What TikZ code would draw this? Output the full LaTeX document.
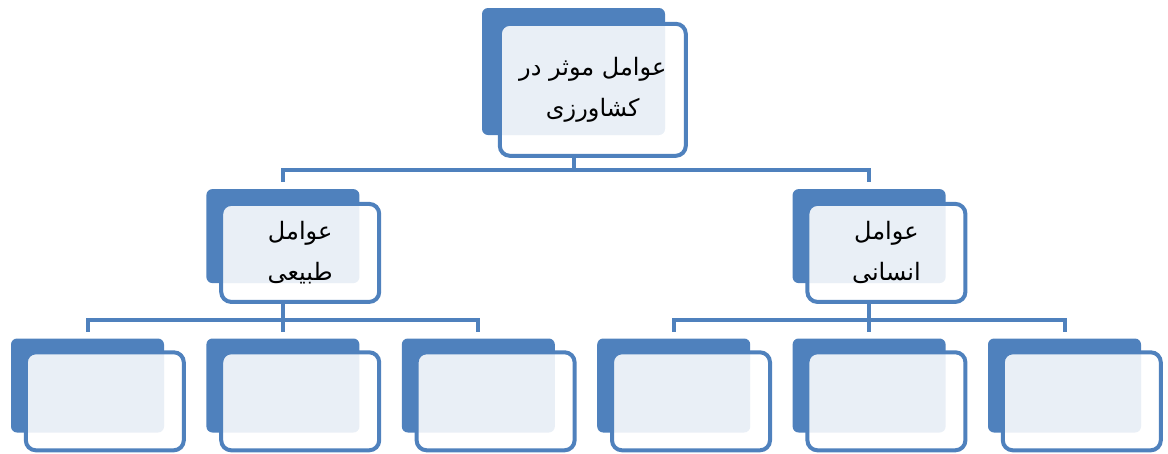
\documentclass[tikz,border=0pt]{standalone}
\usepackage{fontspec}
\newfontfamily\arabicfont[Script=Arabic]{DejaVu Sans}
\TeXXeTstate=1
\usetikzlibrary{positioning}
\definecolor{smblue}{RGB}{79,129,189}
\tikzstyle{bbox}=[rectangle, rounded corners=6pt, fill=smblue, minimum width=153pt, minimum height=94pt, inner sep=0pt]
\tikzstyle{fbox}=[rectangle, rounded corners=10pt, draw=smblue, line width=4pt, fill=white, fill opacity=0.88, text opacity=1, minimum width=158pt, minimum height=98pt, inner sep=2pt, align=center, font=\arabicfont\fontsize{24}{41}\selectfont]
\tikzstyle{pline}=[-, line width=4pt, draw=smblue]

\begin{document}
\begin{tikzpicture}[node distance=0mm]
\useasboundingbox (0,0) rectangle (1168pt,-453pt);
\node (TOPb) [bbox, minimum width=183pt, minimum height=127pt] at (573.5pt,-71.5pt) {};
\node (TOP) [fbox, minimum width=186pt, minimum height=132pt, below right=14pt and 16pt of TOPb.north west] {\beginR عوامل موثر در\endR\\\beginR کشاورزی\endR};
\node (B1b) [bbox] at (87.5pt,-385.5pt) {};
\node (B1) [fbox, below right=12pt and 13pt of B1b.north west] {};
\node (B2b) [bbox, right=42pt of B1b] {};
\node (B2) [fbox, below right=12pt and 13pt of B2b.north west] {};
\node (B3b) [bbox, right=42pt of B2b] {};
\node (B3) [fbox, below right=12pt and 13pt of B3b.north west] {};
\node (B4b) [bbox, right=42pt of B3b] {};
\node (B4) [fbox, below right=12pt and 13pt of B4b.north west] {};
\node (B5b) [bbox, right=42pt of B4b] {};
\node (B5) [fbox, below right=12pt and 13pt of B5b.north west] {};
\node (B6b) [bbox, right=42pt of B5b] {};
\node (B6) [fbox, below right=12pt and 13pt of B6b.north west] {};
\node (NATb) [bbox, above=55pt of B2b] {};
\node (NAT) [fbox, below right=13pt and 13pt of NATb.north west] {\beginR عوامل\endR\\\beginR طبیعی\endR};
\node (HUMb) [bbox, above=55pt of B5b] {};
\node (HUM) [fbox, below right=13pt and 13pt of HUMb.north west] {\beginR عوامل\endR\\\beginR انسانی\endR};
 \draw[pline] (TOPb |- TOP.south) -- ++(0,-12pt) -| ([yshift=7pt]NATb.north);
 \draw[pline] (TOPb |- TOP.south) -- ++(0,-12pt) -| ([yshift=7pt]HUMb.north);
 \draw[pline] (NATb |- NAT.south) -- ++(0,-16pt) -| ([yshift=6pt]B1b.north);
 \draw[pline] (NATb |- NAT.south) -- ++(0,-16pt) -| ([yshift=6pt]B2b.north);
 \draw[pline] (NATb |- NAT.south) -- ++(0,-16pt) -| ([yshift=6pt]B3b.north);
 \draw[pline] (HUMb |- HUM.south) -- ++(0,-16pt) -| ([yshift=6pt]B4b.north);
 \draw[pline] (HUMb |- HUM.south) -- ++(0,-16pt) -| ([yshift=6pt]B5b.north);
 \draw[pline] (HUMb |- HUM.south) -- ++(0,-16pt) -| ([yshift=6pt]B6b.north);
\end{tikzpicture}
\end{document}
